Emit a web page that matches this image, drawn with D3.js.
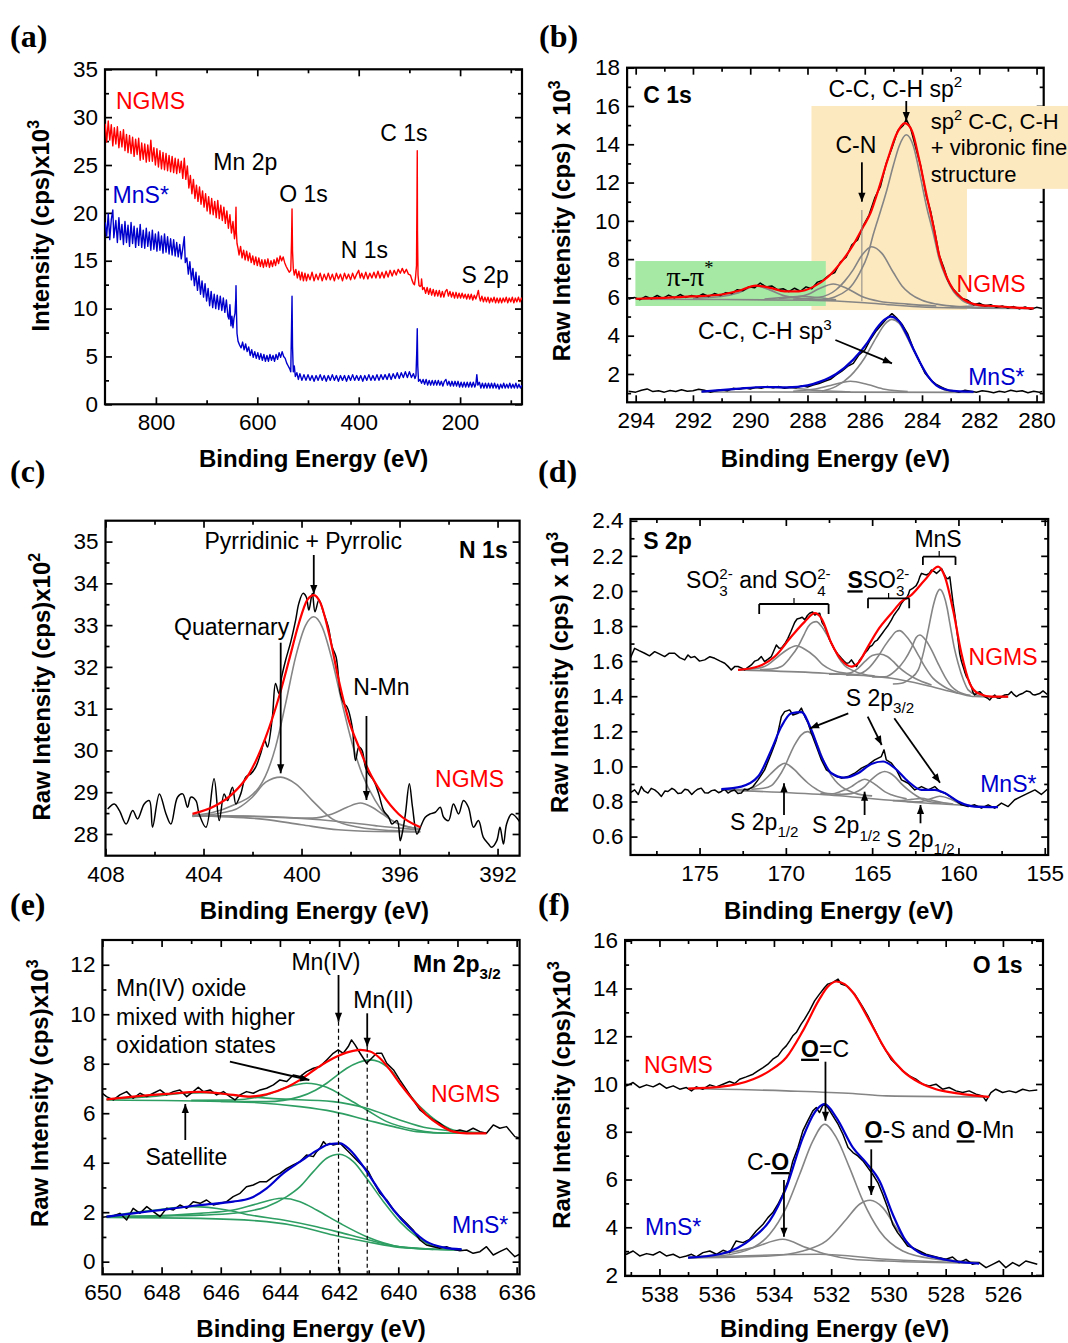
<!DOCTYPE html>
<html>
<head>
<meta charset="utf-8">
<script src="https://cdn.jsdelivr.net/npm/d3@7"></script>
<style>
  body { margin: 0; background: #fff; }
  svg text { font-family: "Liberation Sans", Arial, sans-serif; }
</style>
</head>
<body>
<svg id="figura" width="1068" height="1343"></svg>
<script>
// ---------------- (a) survey ----------------
const surveyNGMS = [[900,29.3],[897,27.4],[894,29.6],[891,27.6],[888,29.2],[885,27.0],[882,28.9],[879,27.2],[876,29.0],[873,26.8],[870,28.5],[867,26.9],[864,28.7],[861,26.5],[858,28.2],[855,26.3],[852,28.1],[849,26.2],[846,27.9],[843,25.9],[840,27.7],[837,26.1],[834,27.8],[831,25.5],[828,27.3],[825,25.6],[822,27.2],[819,25.3],[816,27.1],[813,25.4],[810,27.6],[807,25.4],[804,26.8],[801,25.0],[798,26.7],[795,24.8],[792,26.5],[789,24.6],[786,26.3],[783,24.5],[780,26.2],[777,24.4],[774,26.0],[771,24.3],[768,25.9],[765,24.2],[762,25.7],[759,24.1],[756,25.6],[753,24.2],[750,25.4],[747,23.6],[744,25.7],[741,23.5],[738,24.9],[735,22.6],[732,23.9],[729,22.0],[726,23.5],[723,21.5],[720,22.9],[717,21.2],[714,22.7],[711,20.9],[708,22.3],[705,20.6],[702,22.0],[699,20.2],[696,21.7],[693,19.9],[690,21.5],[687,19.8],[684,21.2],[681,19.5],[678,21.3],[675,19.4],[672,20.8],[669,19.2],[666,20.6],[663,18.9],[660,20.2],[657,18.4],[654,19.8],[651,17.9],[648,19.1],[645,17.3],[643.5,18.0],[642.5,19.6],[642,20.6],[641.3,18.0],[640,16.8],[638,16.3],[636,15.6],[633,16.5],[630,15.3],[627,16.1],[624,15.1],[621,16.0],[618,15.0],[615,15.8],[612,14.8],[609,15.5],[606,14.6],[603,15.4],[600,14.5],[597,15.3],[594,14.4],[591,15.1],[588,14.3],[585,15.1],[582,14.4],[579,15.2],[576,14.3],[573,15.0],[570,14.4],[567,15.1],[564,14.5],[561,15.3],[558,14.7],[555,15.5],[552,15.0],[549,15.4],[546,14.8],[543,14.4],[540,14.1],[537,13.8],[534,14.0],[532.5,17.0],[531.5,20.4],[530.5,16.0],[529,14.2],[527,13.5],[524,14.1],[521,13.2],[518,13.9],[515,13.0],[512,13.8],[509,12.9],[506,13.7],[503,12.9],[500,13.6],[496,13.0],[492,13.8],[488,12.9],[484,13.6],[480,13.0],[476,13.7],[472,12.9],[468,13.6],[464,13.0],[460,13.7],[456,13.0],[452,13.6],[448,12.9],[444,13.7],[440,13.1],[436,13.6],[432,12.9],[428,13.7],[424,13.1],[420,13.6],[416,13.0],[412,13.7],[408,13.1],[404,13.6],[400,14.0],[397,13.2],[394,13.7],[390,13.1],[386,13.8],[382,13.1],[378,13.7],[374,13.2],[370,13.8],[366,13.2],[362,13.9],[358,13.2],[354,13.8],[350,13.2],[346,13.9],[342,13.3],[338,14.0],[334,13.4],[330,14.0],[326,13.5],[322,14.1],[318,13.7],[314,14.2],[310,13.7],[306,14.1],[302,13.6],[298,13.5],[295,13.0],[292,12.6],[290,12.5],[288,13.2],[286,14.5],[285,22.0],[284.5,26.5],[284,18.0],[283,13.5],[281,12.4],[279,12.3],[277,12.4],[276,13.1],[274,12.0],[271,12.2],[268,11.6],[265,12.2],[262,11.5],[259,12.1],[256,11.4],[253,12.0],[250,11.3],[247,11.9],[244,11.3],[241,11.9],[238,11.2],[235,11.8],[232,11.2],[229,11.8],[226,12.0],[223,11.3],[220,11.8],[217,11.2],[214,11.7],[211,11.1],[208,11.7],[205,11.1],[202,11.6],[199,11.1],[196,11.6],[193,11.1],[190,11.5],[187,11.0],[184,11.5],[181,11.0],[178,11.5],[175,10.9],[172,11.4],[169,11.0],[166,11.5],[164,11.9],[162,11.2],[160,10.8],[157,11.3],[154,10.7],[151,11.2],[148,10.7],[145,11.2],[142,10.6],[139,11.1],[136,10.7],[133,11.2],[130,10.6],[127,11.1],[124,10.6],[121,11.1],[118,10.6],[115,11.1],[112,10.7],[109,11.2],[106,10.6],[103,11.1],[100,10.7],[97,11.2],[94,10.6],[91,11.1],[88,10.7],[85,11.2],[82,10.7],[79,11.1],[77,10.9]];

const surveyMnS = [[900,19.0],[897,17.6],[894,19.9],[891,17.2],[888,19.3],[885,20.3],[883,17.4],[879,19.2],[876,16.9],[873,19.5],[870,17.2],[867,18.8],[864,16.7],[861,19.1],[858,16.9],[855,18.7],[852,16.5],[849,19.0],[846,16.8],[843,18.6],[840,16.4],[837,18.4],[834,16.6],[831,18.8],[828,16.4],[825,18.2],[822,16.3],[819,18.4],[816,16.5],[813,18.0],[810,16.1],[807,18.2],[804,16.2],[801,17.8],[798,16.0],[795,18.0],[792,16.1],[789,17.6],[786,15.8],[783,17.8],[780,15.9],[777,17.5],[774,15.7],[771,17.3],[768,15.6],[765,17.2],[762,15.5],[759,16.9],[756,15.4],[753,16.7],[750,15.2],[747,16.3],[744,17.5],[742,14.8],[739,15.3],[736,13.6],[733,14.9],[730,13.0],[727,14.2],[724,12.4],[721,13.8],[718,11.9],[715,13.4],[712,11.5],[709,12.9],[706,11.2],[703,12.6],[700,10.8],[697,12.1],[694,10.3],[691,11.8],[688,10.1],[685,11.5],[682,10.0],[679,11.4],[676,9.9],[673,11.3],[670,9.8],[667,11.1],[664,9.6],[661,10.9],[658,9.2],[656,8.9],[654,10.4],[652,8.2],[650,9.2],[648,8.0],[646,9.0],[644,9.5],[642.5,11.0],[642,12.4],[641,9.5],[640,7.4],[638,6.6],[635,6.2],[632,5.9],[629,6.5],[626,5.7],[623,6.3],[620,5.5],[617,6.0],[614,5.1],[611,5.7],[608,4.9],[605,5.5],[602,4.8],[599,5.4],[596,4.7],[593,5.3],[590,4.6],[587,5.2],[584,4.5],[581,5.1],[578,4.5],[575,5.2],[572,4.6],[569,5.1],[566,4.5],[563,5.2],[560,4.7],[557,5.4],[554,4.9],[551,5.5],[548,5.0],[545,4.8],[542,4.3],[539,4.0],[536,3.7],[534,3.4],[532.5,8.0],[531.5,11.3],[530.5,6.0],[529,3.4],[527,4.0],[525,2.9],[522,3.3],[519,2.6],[516,3.2],[512,2.5],[508,3.1],[504,2.5],[500,3.1],[496,2.5],[492,3.0],[488,2.4],[484,3.0],[480,2.5],[476,3.1],[472,2.5],[468,3.0],[464,2.4],[460,3.0],[456,2.5],[452,3.1],[448,2.5],[444,3.0],[440,2.4],[436,3.0],[432,2.5],[428,3.0],[424,2.4],[420,3.0],[416,2.5],[412,3.1],[408,2.5],[404,3.0],[400,2.5],[396,3.0],[392,2.4],[388,3.0],[384,2.5],[380,3.1],[376,2.5],[372,3.0],[368,2.5],[364,3.1],[360,2.5],[356,3.1],[352,2.6],[348,3.1],[344,2.6],[340,3.2],[336,2.6],[332,3.2],[328,2.7],[324,3.3],[320,2.7],[316,3.3],[312,2.8],[308,3.4],[304,2.8],[300,3.4],[296,2.8],[292,3.2],[289,2.7],[287,3.0],[285.5,5.5],[284.5,7.9],[283.5,4.0],[282,2.4],[279,2.6],[276,2.2],[273,2.6],[270,2.1],[267,2.6],[264,2.0],[261,2.5],[258,2.0],[255,2.5],[252,2.0],[249,2.5],[246,2.0],[243,2.5],[240,2.0],[237,2.4],[234,1.9],[231,2.4],[228,2.6],[225,2.0],[222,2.4],[219,1.9],[216,2.4],[213,1.9],[210,2.4],[207,1.9],[204,2.4],[201,1.8],[198,2.3],[195,1.8],[192,2.3],[189,1.8],[186,2.3],[183,1.8],[180,2.3],[177,1.8],[174,2.3],[171,1.8],[169,2.1],[167,3.1],[165,2.0],[162,2.3],[159,1.7],[156,2.2],[153,1.7],[150,2.2],[147,1.7],[144,2.2],[141,1.7],[138,2.2],[135,1.7],[132,2.2],[129,1.7],[126,2.1],[123,1.6],[120,2.1],[117,1.7],[114,2.2],[111,1.7],[108,2.1],[105,1.7],[102,2.2],[99,1.7],[96,2.1],[93,1.7],[90,2.2],[87,1.7],[84,2.1],[81,1.7],[78,2.0]];

// ---------------- (b) C 1s ----------------
const c1sNGMSraw = [[294.25,5.9],[294.05,6.0],[293.85,5.88],[293.65,6.05],[293.45,5.93],[293.25,6.1],[293.05,5.95],[292.85,6.12],[292.65,5.98],[292.45,6.15],[292.25,6.0],[292.05,6.1],[291.85,6.02],[291.65,6.18],[291.45,6.05],[291.25,6.2],[291.05,6.1],[290.85,6.25],[290.65,6.2],[290.45,6.4],[290.25,6.35],[290.05,6.55],[289.85,6.5],[289.65,6.75],[289.45,6.55],[289.25,6.6],[289.05,6.4],[288.85,6.45],[288.65,6.3],[288.45,6.48],[288.25,6.32],[288.05,6.55],[287.85,6.45],[287.65,6.8],[287.45,6.9],[287.25,7.15],[287.05,7.3],[286.85,7.85],[286.65,8.1],[286.45,8.75],[286.25,9.0],[286.05,9.75],[285.85,10.3],[285.65,11.2],[285.45,11.8],[285.25,13.0],[285.05,13.8],[284.85,14.7],[284.65,15.0],[284.55,15.3],[284.4,14.85],[284.25,14.0],[284.05,12.9],[283.85,11.3],[283.7,10.5],[283.55,9.4],[283.4,8.2],[283.25,7.6],[283.1,6.9],[282.95,6.5],[282.8,6.25],[282.6,5.95],[282.4,5.85],[282.2,5.62],[282.0,5.7],[281.8,5.55],[281.6,5.62],[281.4,5.48],[281.2,5.55],[281.0,5.45],[280.8,5.52],[280.6,5.4],[280.4,5.5],[280.2,5.38],[280.0,5.48],[279.8,5.42]];
const c1sNGMSfit = [[294.0,5.93],[293.0,5.98],[292.0,6.05],[291.0,6.15],[290.4,6.35],[289.8,6.62],[289.3,6.5],[288.8,6.32],[288.3,6.32],[287.8,6.55],[287.3,7.05],[286.9,7.7],[286.4,8.75],[286.05,9.7],[285.8,10.4],[285.55,11.5],[285.2,13.2],[284.9,14.5],[284.6,15.1],[284.35,14.7],[284.1,13.2],[283.85,11.4],[283.6,9.7],[283.4,8.2],[283.15,7.1],[282.9,6.4],[282.5,5.85],[282.0,5.6],[281.5,5.55],[281.0,5.5],[280.5,5.45],[280.1,5.43]];
const c1sNGMScomp = [
  [[294.0,5.9],[291.0,5.89],[288.0,5.85],[286.0,5.72],[285.0,5.6],[284.0,5.5],[282.0,5.44],[280.1,5.42]],
  [[287.5,5.85],[286.6,6.4],[286.17,7.3],[285.9,8.2],[285.7,9.3],[285.45,10.5],[285.23,11.6],[285.0,12.9],[284.8,13.9],[284.55,14.5],[284.3,13.9],[284.07,12.4],[283.85,10.8],[283.6,9.3],[283.4,8.0],[283.15,7.0],[282.9,6.3],[282.6,5.85],[282.2,5.6],[281.5,5.48],[280.1,5.42]],
  [[288.5,5.9],[287.6,6.0],[287.0,6.4],[286.7,6.85],[286.4,7.45],[286.1,8.2],[285.76,8.65],[285.4,8.3],[285.0,7.3],[284.7,6.6],[284.42,6.2],[284.0,5.85],[283.49,5.65],[282.5,5.5],[281.5,5.45]],
  [[289.0,5.95],[288.5,6.0],[288.0,6.15],[287.6,6.45],[287.1,6.7],[286.6,6.45],[286.1,6.05],[285.5,5.8],[284.5,5.65],[283.5,5.55]],
  [[292.0,5.95],[291.0,6.05],[290.4,6.25],[289.8,6.6],[289.3,6.38],[288.8,6.08],[288.0,5.92],[287.0,5.85]],
  [[289.5,5.92],[288.8,6.0],[288.2,6.06],[287.6,5.98],[287.0,5.88]],
  [[283.0,5.5],[282.3,5.55],[281.9,5.62],[281.4,5.52],[280.6,5.45]]
];
const c1sMnSraw = [[294.25,1.1],[294.0,1.05],[293.8,1.15],[293.6,1.22],[293.4,1.08],[293.2,1.12],[293.0,1.05],[292.8,1.14],[292.6,1.08],[292.4,1.18],[292.2,1.1],[292.0,1.12],[291.8,1.2],[291.6,1.15],[291.4,1.05],[291.2,1.12],[291.0,1.18],[290.8,1.12],[290.6,1.25],[290.4,1.2],[290.2,1.28],[290.0,1.22],[289.8,1.3],[289.6,1.26],[289.4,1.35],[289.2,1.28],[289.0,1.34],[288.8,1.25],[288.6,1.32],[288.4,1.28],[288.2,1.38],[288.0,1.32],[287.8,1.42],[287.6,1.5],[287.4,1.62],[287.2,1.72],[287.0,1.95],[286.8,2.15],[286.6,2.4],[286.4,2.55],[286.2,3.0],[286.0,3.25],[285.8,3.8],[285.6,4.25],[285.4,4.6],[285.2,4.95],[285.05,5.15],[284.9,4.95],[284.7,4.6],[284.5,4.1],[284.3,3.3],[284.1,2.7],[283.9,2.05],[283.7,1.7],[283.5,1.45],[283.3,1.3],[283.1,1.15],[282.9,1.12],[282.7,1.05],[282.5,1.15],[282.3,1.1],[282.1,1.05],[281.9,1.12],[281.7,1.08],[281.5,1.02],[281.3,1.1],[281.1,1.05],[280.9,1.15],[280.7,1.08],[280.5,1.12],[280.3,1.02],[280.1,1.1],[279.9,1.05],[279.8,1.08]];
const c1sMnSfit = [[291.7,1.08],[290.5,1.22],[289.5,1.32],[288.7,1.3],[288.0,1.4],[287.56,1.6],[287.0,2.0],[286.4,2.75],[285.9,3.65],[285.6,4.35],[285.3,4.85],[285.1,5.0],[284.8,4.75],[284.55,4.1],[284.3,3.3],[284.07,2.6],[283.8,1.9],[283.5,1.4],[283.2,1.2],[282.8,1.1],[282.2,1.07]];
const c1sMnScomp = [
  [[291.7,1.06],[287.0,1.05],[282.2,1.04]],
  [[287.5,1.1],[287.0,1.35],[286.5,1.9],[286.0,2.85],[285.6,3.9],[285.3,4.6],[285.05,4.85],[284.8,4.65],[284.55,4.0],[284.3,3.25],[284.0,2.4],[283.7,1.7],[283.4,1.3],[283.0,1.1],[282.3,1.05]],
  [[288.5,1.1],[287.8,1.2],[287.2,1.4],[286.5,1.62],[285.9,1.45],[285.3,1.2],[284.5,1.08]],
  [[291.7,1.08],[290.5,1.2],[289.4,1.3],[288.5,1.25],[287.5,1.12],[286.5,1.06]]
];
// highlighted regions of panel (b): [E from, E to, y from, y to]
const regionSp2 = [[287.86, 282.43, 5.34, 16.0], [282.43, 278.9, 11.67, 16.0]];
const regionPi = [294.01, 287.36, 5.55, 7.9];

// ---------------- (c) N 1s ----------------
const n1sRaw = [[407.91,28.6],[407.64,28.72],[407.43,28.56],[407.16,28.24],[406.89,28.56],[406.69,28.36],[406.42,28.72],[406.21,28.8],[406.08,28.16],[405.8,28.96],[405.53,28.48],[405.33,28.24],[405.06,28.88],[404.85,28.96],[404.65,28.64],[404.52,28.88],[404.31,28.8],[404.18,28.48],[403.9,28.16],[403.57,29.32],[403.36,28.32],[403.16,28.96],[403.02,28.8],[402.82,29.12],[402.68,28.72],[402.48,28.96],[402.28,29.36],[402.07,29.44],[401.87,29.6],[401.67,29.92],[401.5,30.24],[401.39,30.08],[401.19,30.8],[401.06,31.6],[400.92,31.36],[400.81,31.76],[400.65,32.16],[400.44,32.6],[400.24,33.12],[400.11,33.52],[399.94,33.76],[399.81,33.68],[399.7,33.36],[399.56,33.76],[399.45,33.32],[399.29,33.6],[399.09,33.28],[398.91,32.96],[398.75,32.48],[398.59,32.24],[398.41,31.36],[398.27,31.12],[398.14,31.04],[397.93,30.56],[397.8,29.76],[397.66,30.08],[397.53,30.0],[397.39,29.6],[397.26,29.44],[397.05,29.28],[396.85,28.96],[396.65,28.56],[396.44,28.4],[396.31,28.24],[396.1,28.32],[395.97,27.84],[395.87,28.08],[395.76,28.48],[395.6,29.2],[395.47,28.64],[395.29,28.0],[395.15,28.16],[394.95,28.4],[394.75,28.48],[394.54,28.52],[394.34,28.64],[394.2,28.4],[394.0,28.32],[393.8,28.72],[393.59,28.48],[393.39,28.8],[393.19,28.64],[392.98,28.16],[392.78,28.32],[392.58,27.92],[392.37,27.76],[392.24,27.68],[392.03,27.84],[391.9,28.16],[391.76,27.76],[391.63,28.24],[391.42,28.48],[391.1,28.3]];
const n1sFit = [[404.45,28.48],[403.5,28.68],[402.82,28.96],[402.14,29.44],[401.46,30.32],[400.92,31.28],[400.51,32.16],[400.11,33.04],[399.77,33.6],[399.5,33.72],[399.22,33.52],[398.88,32.8],[398.48,31.68],[398.07,30.72],[397.66,30.08],[397.26,29.52],[396.71,28.96],[396.04,28.48],[395.15,28.16]];
const n1sComp = [
  [[404.45,28.44],[402.0,28.42],[400.0,28.37],[398.5,28.3],[397.0,28.2],[396.0,28.14],[395.15,28.1]],
  [[404.45,28.44],[401.5,28.35],[400.0,28.22],[398.5,28.1],[397.0,28.06],[395.15,28.05]],
  [[404.45,28.44],[402.82,28.68],[401.73,29.12],[401.06,30.08],[400.65,31.12],[400.24,32.24],[399.83,33.0],[399.5,33.2],[399.16,32.96],[398.75,32.16],[398.34,31.12],[397.93,30.16],[397.53,29.44],[396.99,28.8],[396.31,28.32],[395.15,28.12]],
  [[404.45,28.42],[402.82,28.56],[402.01,28.88],[401.46,29.24],[400.85,29.36],[400.24,29.2],[399.56,28.8],[398.75,28.36],[397.66,28.16],[396.31,28.08],[395.15,28.06]],
  [[404.45,28.44],[401.46,28.42],[399.56,28.38],[398.75,28.48],[398.14,28.64],[397.6,28.74],[397.12,28.64],[396.71,28.48],[396.04,28.24],[395.15,28.12]]
];

// ---------------- (d) S 2p ----------------
const s2pNGMSraw = [[179.0,1.62],[178.76,1.673],[178.5,1.66],[178.18,1.645],[177.9,1.63],[177.6,1.654],[177.3,1.64],[177.02,1.626],[176.75,1.645],[176.44,1.645],[176.15,1.62],[175.86,1.607],[175.67,1.635],[175.5,1.62],[175.28,1.626],[175.0,1.6],[174.7,1.607],[174.4,1.625],[174.12,1.616],[173.8,1.6],[173.54,1.588],[173.35,1.57],[173.16,1.55],[172.95,1.57],[172.77,1.569],[172.55,1.56],[172.39,1.55],[172.2,1.565],[172.0,1.578],[171.8,1.6],[171.61,1.607],[171.42,1.626],[171.23,1.597],[171.05,1.61],[170.84,1.626],[170.55,1.692],[170.4,1.675],[170.26,1.673],[170.05,1.7],[169.88,1.73],[169.7,1.77],[169.49,1.82],[169.35,1.84],[169.2,1.844],[169.05,1.85],[168.9,1.835],[168.75,1.86],[168.62,1.873],[168.45,1.88],[168.32,1.863],[168.18,1.87],[168.04,1.873],[167.9,1.82],[167.75,1.796],[167.6,1.76],[167.46,1.721],[167.3,1.69],[167.17,1.664],[166.98,1.64],[166.78,1.616],[166.63,1.6],[166.49,1.588],[166.35,1.59],[166.2,1.607],[166.05,1.585],[165.91,1.569],[165.72,1.607],[165.57,1.625],[165.43,1.645],[165.28,1.66],[165.14,1.682],[165.0,1.69],[164.85,1.711],[164.7,1.72],[164.56,1.739],[164.4,1.76],[164.27,1.778],[164.1,1.8],[163.88,1.835],[163.75,1.86],[163.59,1.882],[163.45,1.9],[163.3,1.93],[163.15,1.95],[163.01,1.958],[162.9,1.98],[162.82,2.005],[162.65,2.015],[162.53,2.024],[162.45,2.03],[162.33,2.053],[162.24,2.08],[162.14,2.1],[162.0,2.095],[161.85,2.091],[161.7,2.1],[161.56,2.119],[161.4,2.11],[161.27,2.1],[161.1,2.115],[160.98,2.128],[160.85,2.1],[160.69,2.072],[160.6,2.07],[160.5,2.081],[160.4,2.0],[160.31,1.93],[160.2,1.86],[160.12,1.796],[160.02,1.72],[159.93,1.645],[159.83,1.6],[159.73,1.569],[159.64,1.54],[159.54,1.512],[159.4,1.49],[159.25,1.455],[159.15,1.42],[159.06,1.407],[158.9,1.42],[158.77,1.426],[158.6,1.41],[158.48,1.398],[158.33,1.39],[158.19,1.379],[158.05,1.395],[157.9,1.407],[157.75,1.39],[157.61,1.388],[157.45,1.4],[157.32,1.407],[157.1,1.41],[156.93,1.426],[156.8,1.41],[156.64,1.398],[156.45,1.41],[156.26,1.417],[156.05,1.43],[155.87,1.426],[155.7,1.41],[155.57,1.407],[155.3,1.415],[155.1,1.43],[154.85,1.41]];
const s2pNGMSfit = [[172.77,1.55],[171.61,1.569],[170.64,1.626],[169.68,1.74],[168.9,1.825],[168.32,1.873],[167.94,1.844],[167.36,1.702],[166.78,1.607],[166.2,1.569],[165.82,1.588],[165.24,1.683],[164.66,1.778],[163.88,1.873],[163.3,1.94],[162.72,1.978],[161.95,2.062],[161.18,2.138],[160.79,2.081],[160.31,1.891],[159.83,1.645],[159.35,1.474],[158.86,1.417],[158.08,1.398],[157.12,1.398]];
const s2pNGMScomp = [
  [[172.77,1.55],[167.75,1.531],[163.88,1.502],[161.95,1.464],[160.02,1.417],[159.06,1.398],[157.12,1.394]],
  [[172.77,1.55],[171.61,1.559],[171.03,1.58],[170.45,1.626],[169.88,1.668],[169.39,1.688],[168.9,1.668],[168.32,1.626],[167.85,1.578],[167.36,1.55],[166.5,1.53],[165.82,1.521]],
  [[171.5,1.552],[170.8,1.555],[170.26,1.569],[169.75,1.62],[169.3,1.682],[168.95,1.75],[168.71,1.796],[168.45,1.82],[168.23,1.825],[167.95,1.8],[167.56,1.739],[167.25,1.68],[166.98,1.626],[166.6,1.575],[166.2,1.55],[165.5,1.525],[164.85,1.515]],
  [[167.5,1.525],[166.78,1.525],[166.2,1.535],[165.82,1.559],[165.4,1.6],[165.0,1.632],[164.56,1.641],[164.1,1.625],[163.8,1.6],[163.49,1.569],[163.0,1.53],[162.53,1.502],[161.56,1.464]],
  [[166.5,1.52],[165.82,1.525],[165.2,1.56],[164.66,1.626],[164.25,1.69],[163.88,1.739],[163.62,1.768],[163.4,1.774],[163.1,1.75],[162.72,1.702],[162.3,1.63],[161.95,1.569],[161.45,1.5],[160.98,1.464],[160.02,1.417]],
  [[165.0,1.51],[164.27,1.51],[163.6,1.55],[163.11,1.607],[162.7,1.68],[162.45,1.735],[162.24,1.749],[161.9,1.72],[161.56,1.664],[161.2,1.59],[160.79,1.512],[160.4,1.455],[160.02,1.426],[159.3,1.405]],
  [[163.8,1.47],[163.3,1.474],[162.8,1.5],[162.33,1.55],[162.0,1.66],[161.75,1.778],[161.45,1.92],[161.25,1.985],[161.08,2.009],[160.85,1.975],[160.65,1.9],[160.5,1.816],[160.25,1.68],[160.02,1.588],[159.7,1.49],[159.44,1.436],[158.9,1.405],[158.48,1.398]]
];
const s2pMnSraw = [[179.0,0.85],[178.76,0.866],[178.55,0.84],[178.37,0.885],[178.2,0.86],[177.99,0.848],[177.8,0.875],[177.6,0.866],[177.4,0.85],[177.21,0.829],[177.0,0.86],[176.83,0.857],[176.6,0.875],[176.44,0.866],[176.25,0.845],[176.05,0.848],[175.85,0.87],[175.67,0.866],[175.45,0.84],[175.28,0.857],[175.1,0.87],[174.9,0.876],[174.7,0.85],[174.51,0.848],[174.3,0.862],[174.12,0.866],[173.9,0.85],[173.74,0.857],[173.55,0.87],[173.35,0.848],[173.15,0.86],[172.97,0.866],[172.78,0.845],[172.58,0.848],[172.4,0.87],[172.2,0.866],[171.9,0.885],[171.61,0.923],[171.23,0.98],[170.84,1.075],[170.55,1.151],[170.26,1.284],[170.07,1.312],[169.78,1.322],[169.59,1.293],[169.3,1.303],[169.1,1.332],[168.9,1.284],[168.71,1.246],[168.52,1.189],[168.23,1.113],[167.94,1.037],[167.65,0.98],[167.36,0.961],[167.07,0.942],[166.78,0.933],[166.4,0.942],[166.01,0.961],[165.62,0.99],[165.24,1.009],[164.85,1.037],[164.47,1.056],[164.31,1.094],[164.18,1.037],[163.88,1.018],[163.59,0.98],[163.3,0.923],[162.91,0.904],[162.53,0.866],[162.14,0.885],[161.75,0.866],[161.37,0.885],[161.08,0.857],[160.79,0.848],[160.5,0.829],[160.21,0.81],[159.83,0.781],[159.44,0.771],[159.06,0.781],[158.67,0.762],[158.28,0.781],[157.9,0.762],[157.51,0.791],[157.12,0.771],[156.74,0.81],[156.35,0.829],[155.96,0.848],[155.57,0.866],[155.2,0.84],[154.85,0.87]];
const s2pMnSfit = [[173.74,0.87],[172.58,0.885],[171.61,0.942],[170.84,1.094],[170.26,1.227],[169.68,1.303],[169.1,1.309],[168.52,1.208],[167.94,1.056],[167.36,0.961],[166.59,0.936],[165.82,0.961],[165.05,1.014],[164.37,1.028],[163.69,0.99],[162.91,0.914],[162.14,0.866],[161.37,0.866],[160.79,0.848],[160.02,0.8],[159.06,0.771],[157.71,0.768]];
const s2pMnScomp = [
  [[173.74,0.866],[167.75,0.838],[161.95,0.791],[157.71,0.768]],
  [[173.74,0.866],[172.6,0.868],[172.0,0.876],[171.6,0.895],[171.23,0.923],[170.9,0.955],[170.64,0.98],[170.35,1.005],[170.07,1.018],[169.8,1.005],[169.49,0.98],[169.1,0.94],[168.71,0.904],[168.2,0.868],[167.75,0.848],[166.8,0.84]],
  [[172.0,0.87],[171.3,0.875],[170.84,0.89],[170.45,0.935],[170.07,0.999],[169.75,1.07],[169.49,1.122],[169.1,1.18],[168.75,1.198],[168.4,1.17],[168.13,1.113],[167.85,1.04],[167.56,0.98],[167.15,0.92],[166.78,0.885],[166.3,0.858],[165.82,0.842],[165.0,0.832]],
  [[168.0,0.845],[167.36,0.843],[166.8,0.858],[166.2,0.885],[165.8,0.912],[165.43,0.927],[165.05,0.912],[164.66,0.885],[164.25,0.855],[163.88,0.838],[163.0,0.815]],
  [[167.0,0.84],[166.2,0.845],[165.8,0.86],[165.43,0.885],[165.1,0.92],[164.85,0.942],[164.55,0.962],[164.27,0.971],[163.98,0.962],[163.69,0.942],[163.3,0.9],[162.91,0.866],[162.4,0.83],[161.95,0.806],[161.0,0.792]],
  [[163.8,0.805],[163.3,0.806],[162.7,0.812],[162.14,0.818],[161.6,0.808],[161.0,0.795],[160.3,0.785]],
  [[163.0,0.8],[162.33,0.798],[161.7,0.812],[161.08,0.83],[160.5,0.815],[160.02,0.792],[159.06,0.772],[158.0,0.768]]
];

// ---------------- (e) Mn 2p3/2 ----------------
const mnNGMSraw = [[650.0,6.8],[649.86,6.671],[649.63,6.536],[649.41,6.739],[649.18,6.873],[648.96,6.604],[648.73,6.806],[648.5,6.671],[648.28,6.806],[648.05,6.941],[647.83,6.739],[647.6,6.873],[647.38,6.941],[647.15,6.671],[646.93,6.873],[646.76,7.049],[646.59,6.873],[646.36,6.941],[646.14,6.739],[645.91,6.873],[645.69,6.671],[645.52,6.536],[645.35,6.739],[645.13,6.873],[644.9,6.806],[644.67,6.941],[644.45,7.008],[644.22,7.143],[644.0,7.345],[643.77,7.278],[643.55,7.547],[643.32,7.48],[643.1,7.682],[642.87,7.817],[642.65,7.884],[642.42,8.154],[642.2,8.423],[642.03,8.558],[641.86,8.423],[641.69,8.693],[641.58,8.962],[641.46,8.76],[641.29,8.423],[641.07,8.019],[640.9,8.221],[640.73,8.423],[640.56,8.423],[640.39,8.019],[640.16,7.749],[639.95,7.345],[639.72,6.941],[639.5,6.536],[639.27,6.132],[639.05,5.93],[638.82,5.728],[638.6,5.593],[638.37,5.391],[638.14,5.256],[637.92,5.323],[637.69,5.256],[637.47,5.391],[637.24,5.256],[637.02,5.189],[636.79,5.526],[636.57,5.391],[636.34,5.458],[636.06,5.054],[635.9,5.0]];
const mnNGMSfit = [[649.86,6.563],[648.96,6.671],[647.83,6.779],[646.7,6.86],[645.58,6.739],[645.01,6.671],[644.45,6.765],[643.77,7.049],[643.32,7.345],[642.76,7.817],[642.2,8.221],[641.63,8.491],[641.29,8.558],[640.95,8.491],[640.62,8.221],[640.28,7.749],[639.95,7.21],[639.5,6.536],[639.05,5.93],[638.6,5.526],[638.14,5.256],[637.69,5.189],[637.02,5.189]];
const mnNGMScomp = [
  [[649.86,6.536],[645.58,6.469],[643.32,6.267],[642.2,6.065],[641.07,5.728],[640.16,5.458],[639.38,5.256],[638.26,5.189],[637.02,5.189]],
  [[649.86,6.563],[648.39,6.671],[647.26,6.806],[646.48,6.833],[645.35,6.698],[644.22,6.59],[642.2,6.469],[641.07,6.2],[640.0,5.75],[639.0,5.4],[637.02,5.2]],
  [[647.0,6.52],[645.58,6.536],[644.45,6.739],[643.77,7.049],[643.1,7.21],[642.42,7.049],[641.74,6.604],[641.07,6.132],[640.39,5.66],[639.38,5.323],[638.26,5.189],[637.02,5.189]],
  [[646.0,6.48],[644.45,6.469],[643.32,6.671],[642.8,6.93],[642.42,7.21],[642.05,7.55],[641.74,7.817],[641.35,8.05],[640.95,8.154],[640.65,8.08],[640.39,7.884],[640.15,7.6],[639.95,7.21],[639.65,6.8],[639.38,6.402],[639.1,6.08],[638.82,5.795],[638.14,5.323],[637.5,5.21],[637.02,5.189]]
];
const mnMnSraw = [[650.0,1.8],[649.86,1.82],[649.63,1.846],[649.41,1.954],[649.18,1.685],[648.96,2.156],[648.73,1.954],[648.5,2.224],[648.28,2.022],[648.05,1.82],[647.83,2.156],[647.6,2.089],[647.38,2.291],[647.15,2.156],[646.93,2.426],[646.7,2.359],[646.48,2.493],[646.25,2.291],[646.03,2.359],[645.8,2.426],[645.58,2.628],[645.35,2.763],[645.13,3.032],[644.9,3.1],[644.67,3.235],[644.45,3.235],[644.22,3.437],[644.0,3.571],[643.77,3.774],[643.55,3.908],[643.32,4.043],[643.1,4.313],[642.87,4.245],[642.76,4.447],[642.65,4.582],[642.53,4.852],[642.42,4.717],[642.31,4.784],[642.2,4.717],[641.97,4.784],[641.8,4.582],[641.63,4.38],[641.41,4.111],[641.18,3.841],[641.01,3.639],[640.84,3.235],[640.62,2.763],[640.39,2.493],[640.16,2.089],[639.95,1.82],[639.72,1.55],[639.5,1.28],[639.27,0.876],[639.05,0.674],[638.82,0.606],[638.6,0.539],[638.37,0.606],[638.14,0.499],[637.92,0.445],[637.69,0.472],[637.47,0.337],[637.24,0.404],[637.02,0.606],[636.79,0.27],[636.57,0.404],[636.34,0.539],[636.06,0.202],[635.9,0.3]];
const mnMnSfit = [[649.86,1.82],[648.96,1.954],[647.83,2.116],[646.7,2.291],[645.58,2.426],[645.01,2.561],[644.45,2.965],[643.89,3.571],[643.32,4.043],[642.76,4.488],[642.31,4.757],[641.97,4.784],[641.63,4.515],[641.18,3.841],[640.73,3.032],[640.16,2.089],[639.6,1.348],[639.05,0.809],[638.48,0.58],[637.86,0.499]];
const mnMnScomp = [
  [[649.86,1.792],[646.7,1.752],[644.45,1.617],[643.32,1.415],[642.2,1.078],[641.07,0.809],[639.95,0.58],[637.86,0.472]],
  [[649.86,1.82],[648.39,2.062],[646.93,2.224],[645.8,2.089],[645.01,1.887],[643.89,1.685],[642.76,1.415],[641.63,1.078],[639.95,0.606],[637.86,0.472]],
  [[649.86,1.82],[648.5,1.84],[646.7,1.954],[645.58,2.089],[644.79,2.332],[643.94,2.561],[643.32,2.426],[642.76,2.089],[641.97,1.55],[641.07,1.011],[639.95,0.606],[638.82,0.499]],
  [[649.86,1.82],[647.83,1.85],[646.7,1.88],[645.58,1.954],[644.45,2.224],[643.77,2.628],[643.32,3.032],[642.87,3.639],[642.42,4.178],[641.99,4.34],[641.52,4.043],[641.07,3.369],[640.5,2.426],[639.95,1.617],[639.38,1.011],[638.82,0.633],[637.86,0.499]]
];

// ---------------- (f) O 1s ----------------
const o1sNGMSraw = [[539.39,9.992],[539.15,9.922],[538.92,10.061],[538.69,9.852],[538.45,9.964],[538.22,9.88],[537.99,10.02],[537.76,9.824],[537.52,9.922],[537.29,9.782],[537.06,9.852],[536.88,9.712],[536.71,9.88],[536.48,9.782],[536.24,9.964],[536.01,9.88],[535.78,9.992],[535.55,10.103],[535.37,10.02],[535.2,10.201],[534.97,10.3],[534.73,10.411],[534.56,10.55],[534.38,10.69],[534.21,10.83],[534.04,11.039],[533.86,11.179],[533.69,11.458],[533.57,11.598],[533.45,11.807],[533.34,12.017],[533.22,12.156],[533.05,12.506],[532.93,12.715],[532.76,13.064],[532.58,13.483],[532.41,13.763],[532.23,14.042],[532.12,14.182],[531.94,14.251],[531.76,14.391],[531.65,14.182],[531.47,14.112],[531.3,13.902],[531.18,13.763],[531.07,13.553],[530.89,13.204],[530.72,12.855],[530.55,12.436],[530.43,12.156],[530.26,11.737],[530.08,11.388],[529.91,11.039],[529.73,10.83],[529.5,10.55],[529.27,10.341],[529.04,10.201],[528.81,9.992],[528.57,9.922],[528.34,9.992],[528.11,9.782],[527.88,9.852],[527.64,9.712],[527.41,9.642],[527.18,9.712],[526.94,9.573],[526.71,9.503],[526.59,9.293],[526.42,9.642],[526.25,9.782],[526.01,9.642],[525.78,9.712],[525.55,9.642],[525.31,9.782],[525.08,9.712],[524.8,9.75]];
const o1sNGMSfit = [[537.0,9.81],[535.9,9.88],[534.73,10.2],[534.15,10.55],[533.57,11.109],[532.99,12.226],[532.41,13.553],[532.12,14.07],[531.82,14.293],[531.53,14.18],[531.24,13.832],[530.66,12.645],[530.08,11.388],[529.5,10.55],[528.92,10.061],[528.34,9.782],[527.76,9.642],[527.18,9.545],[526.48,9.461]];
const o1sNGMSbg = [[537.0,9.81],[533.57,9.712],[531.24,9.6],[530.08,9.503],[526.48,9.461]];
const o1sMnSraw = [[539.39,2.939],[539.15,2.869],[538.92,3.008],[538.69,2.799],[538.45,2.897],[538.22,2.841],[537.99,2.98],[537.76,2.799],[537.52,2.869],[537.29,2.729],[537.06,2.799],[536.88,2.869],[536.71,2.757],[536.48,2.939],[536.24,3.008],[536.01,2.869],[535.78,3.036],[535.55,2.939],[535.32,3.427],[535.08,3.358],[534.85,3.497],[534.62,3.846],[534.38,4.126],[534.21,4.405],[534.04,4.615],[533.86,4.964],[533.69,5.383],[533.51,5.941],[533.34,6.78],[533.16,7.338],[532.99,8.036],[532.82,8.455],[532.64,8.874],[532.52,9.014],[532.41,8.804],[532.27,9.154],[532.12,9.014],[531.94,8.665],[531.76,8.316],[531.59,7.897],[531.41,7.338],[531.24,7.128],[531.07,6.989],[530.89,6.78],[530.72,6.5],[530.55,6.221],[530.37,5.872],[530.2,5.383],[530.03,4.824],[529.85,4.126],[529.68,3.777],[529.5,3.497],[529.33,3.218],[529.16,3.148],[528.92,3.008],[528.69,2.869],[528.46,2.799],[528.23,2.729],[527.99,2.659],[527.76,2.757],[527.53,2.52],[527.29,2.659],[527.06,2.45],[526.83,2.52],[526.59,2.31],[526.36,2.45],[526.13,2.589],[525.9,2.31],[525.66,2.52],[525.43,2.38],[525.2,2.589],[524.8,2.45]];
const o1sMnSfit = [[537.0,2.729],[535.9,2.869],[534.73,3.567],[534.15,4.265],[533.57,5.662],[532.99,7.757],[532.58,8.804],[532.23,9.154],[531.82,8.595],[531.24,7.338],[530.78,6.709],[530.31,5.941],[529.85,4.545],[529.39,3.427],[528.92,2.939],[528.34,2.729],[527.76,2.589],[526.83,2.478]];
const o1sMnScomp = [
  [[537.0,2.72],[532.41,2.869],[530.08,2.659],[526.83,2.492]],
  [[537.0,2.729],[535.9,2.869],[534.73,3.148],[533.69,3.497],[532.87,3.148],[532.17,2.869],[531.24,2.659],[530.08,2.589],[526.83,2.492]],
  [[537.0,2.73],[535.9,2.799],[534.73,3.148],[534.15,3.707],[533.57,4.824],[533.1,6.221],[532.64,7.617],[532.23,8.316],[531.82,7.757],[531.36,6.5],[530.89,5.103],[530.31,3.846],[529.5,3.008],[528.34,2.659],[526.83,2.52]],
  [[537.0,2.72],[534.15,2.799],[532.99,3.008],[532.17,3.427],[531.47,4.335],[531.01,4.964],[530.64,5.131],[530.2,4.824],[529.73,3.986],[529.16,3.148],[528.34,2.729],[526.83,2.52]]
];

// ---------------- dibujo ----------------
const svg = d3.select("#figura");
const ROJO = "#ff0000", AZUL = "#0000cd", GRIS = "#858585", VERDE = "#2e9e62";
const fuente = "Liberation Sans, Arial, sans-serif";

const defs = svg.append("defs");
defs.append("marker")
  .attr("id", "punta").attr("viewBox", "0 0 10 10")
  .attr("refX", 10).attr("refY", 5)
  .attr("markerWidth", 10).attr("markerHeight", 9)
  .attr("markerUnits", "userSpaceOnUse").attr("orient", "auto")
  .append("path").attr("d", "M0,1L10,5L0,9Z").attr("fill", "#000");

const texto = (x, y, partes, op = {}) => {
  const size = op.size || 23;
  const t = svg.append("text")
    .attr("x", x).attr("y", y)
    .attr("font-size", size)
    .attr("fill", op.color || "#000")
    .attr("text-anchor", op.anchor || "start");
  if (op.bold) t.attr("font-weight", "bold");
  if (op.family) t.style("font-family", op.family);
  if (op.rotate) t.attr("transform", `rotate(-90,${x},${y})`);
  let desplazado = 0;
  partes.forEach(p => {
    if (typeof p === "string") p = { t: p };
    const objetivo = p.sub ? size * 0.32 : p.sup ? -size * 0.42 : 0;
    const ts = t.append("tspan").text(p.t).attr("dy", objetivo - desplazado);
    desplazado = objetivo;
    if (p.sub || p.sup) ts.attr("font-size", size * 0.66);
    if (p.dx) ts.attr("dx", p.dx);
    if (p.bold) ts.attr("font-weight", "bold");
    if (p.u) ts.attr("text-decoration", "underline");
  });
  return t;
};

const flecha = (x1, y1, x2, y2) => {
  svg.append("line")
    .attr("x1", x1).attr("y1", y1).attr("x2", x2).attr("y2", y2)
    .attr("stroke", "#000").attr("stroke-width", 1.8)
    .attr("marker-end", "url(#punta)");
};
const linea = (x1, y1, x2, y2, w = 1.8, dash = null, color = "#000") => {
  svg.append("line")
    .attr("x1", x1).attr("y1", y1).attr("x2", x2).attr("y2", y2)
    .attr("stroke", color).attr("stroke-width", w)
    .attr("stroke-dasharray", dash);
};

const panel = (p) => {
  const x = d3.scaleLinear().domain(p.xDom).range([p.left, p.right]);
  const y = d3.scaleLinear().domain(p.yDom).range([p.bottom, p.top]);
  const estilo = g => {
    g.select(".domain").remove();
    g.selectAll("line").attr("stroke", "#000").attr("stroke-width", 1.7);
    g.selectAll("text").attr("font-size", 22.5).attr("font-family", fuente).attr("fill", "#000");
  };
  const fmtX = p.xFmt || d3.format("d");
  const fmtY = p.yFmt || d3.format("d");
  const ejes = svg.append("g");
  ejes.append("g").attr("transform", `translate(0,${p.bottom})`)
    .call(d3.axisBottom(x).tickValues(p.xMajor).tickSize(-7).tickPadding(10).tickFormat(fmtX)).call(estilo);
  ejes.append("g").attr("transform", `translate(0,${p.bottom})`)
    .call(d3.axisBottom(x).tickValues(p.xMinor).tickSize(-4).tickFormat("")).call(estilo);
  ejes.append("g").attr("transform", `translate(0,${p.top})`)
    .call(d3.axisTop(x).tickValues(p.xMajor).tickSize(-7).tickFormat("")).call(estilo);
  ejes.append("g").attr("transform", `translate(0,${p.top})`)
    .call(d3.axisTop(x).tickValues(p.xMinor).tickSize(-4).tickFormat("")).call(estilo);
  ejes.append("g").attr("transform", `translate(${p.left},0)`)
    .call(d3.axisLeft(y).tickValues(p.yMajor).tickSize(-7).tickPadding(7).tickFormat(fmtY)).call(estilo);
  ejes.append("g").attr("transform", `translate(${p.left},0)`)
    .call(d3.axisLeft(y).tickValues(p.yMinor).tickSize(-4).tickFormat("")).call(estilo);
  ejes.append("g").attr("transform", `translate(${p.right},0)`)
    .call(d3.axisRight(y).tickValues(p.yMajor).tickSize(-7).tickFormat("")).call(estilo);
  ejes.append("g").attr("transform", `translate(${p.right},0)`)
    .call(d3.axisRight(y).tickValues(p.yMinor).tickSize(-4).tickFormat("")).call(estilo);
  ejes.append("rect")
    .attr("x", p.left).attr("y", p.top)
    .attr("width", p.right - p.left).attr("height", p.bottom - p.top)
    .attr("fill", "none").attr("stroke", "#000").attr("stroke-width", 2.2);

  const clip = "clip-" + p.id;
  defs.append("clipPath").attr("id", clip).append("rect")
    .attr("x", p.left).attr("y", p.top)
    .attr("width", p.right - p.left).attr("height", p.bottom - p.top);
  // capa: shaded regions, drawn under the spectra
  const capa = svg.append("g");
  const trazos = svg.append("g").attr("clip-path", `url(#${clip})`);
  const serie = (datos, color, ancho, curva) => {
    trazos.append("path")
      .attr("d", d3.line().x(d => x(d[0])).y(d => y(d[1])).curve(curva || d3.curveLinear)(datos))
      .attr("fill", "none").attr("stroke", color).attr("stroke-width", ancho)
      .attr("stroke-linejoin", "round");
  };
  return { x, y, serie, capa };
};

const suave = d3.curveMonotoneX;

// ---------- (a) ----------
{
  const p = panel({ id: "a", left: 105, right: 522, top: 69.3, bottom: 404.3,
    xDom: [900.4, 77.9], yDom: [0, 35],
    xMajor: [800, 600, 400, 200], xMinor: [700, 500, 300, 100],
    yMajor: d3.range(0, 36, 5), yMinor: d3.range(2.5, 35, 5) });
  p.serie(surveyNGMS, ROJO, 1.4);
  p.serie(surveyMnS, AZUL, 1.4);
  texto(116, 109.3, ["NGMS"], { color: ROJO });
  texto(112.6, 202.7, ["MnS*"], { color: AZUL });
  texto(213.3, 170, ["Mn 2p"]);
  texto(279.2, 201.7, ["O 1s"]);
  texto(340.8, 258.3, ["N 1s"]);
  texto(380.3, 140.7, ["C 1s"]);
  texto(461.5, 282.7, ["S 2p"]);
}

// ---------- (b) ----------
{
  const p = panel({ id: "b", left: 627.1, right: 1043.7, top: 67.7, bottom: 402.3,
    xDom: [294.3, 279.75], yDom: [0.52, 18],
    xMajor: d3.range(294, 279, -2), xMinor: d3.range(293, 280, -2),
    yMajor: d3.range(2, 19, 2), yMinor: d3.range(1, 18, 2) });
  regionSp2.forEach(r => {
    p.capa.append("rect")
      .attr("x", p.x(r[0])).attr("y", p.y(r[3]))
      .attr("width", p.x(r[1]) - p.x(r[0])).attr("height", p.y(r[2]) - p.y(r[3]))
      .attr("fill", "#fde9bf");
  });
  p.capa.append("rect")
    .attr("x", p.x(regionPi[0])).attr("y", p.y(regionPi[3]))
    .attr("width", p.x(regionPi[1]) - p.x(regionPi[0])).attr("height", p.y(regionPi[2]) - p.y(regionPi[3]))
    .attr("fill", "#a5e9a5");
  c1sNGMScomp.forEach(c => p.serie(c, GRIS, 1.6, suave));
  c1sMnScomp.forEach(c => p.serie(c, GRIS, 1.6, suave));
  p.serie(c1sNGMSraw, "#000", 1.5);
  p.serie(c1sMnSraw, "#000", 1.5);
  p.serie(c1sNGMSfit, ROJO, 2.2, suave);
  p.serie(c1sMnSfit, AZUL, 2.2, suave);
  linea(p.x(286.1), 210, p.x(286.1), p.y(5.8), 1, null, GRIS);
  texto(643.2, 102.7, ["C 1s"], { bold: true });
  texto(828.6, 96.7, ["C-C, C-H sp", { t: "2", sup: true }]);
  flecha(p.x(284.55), 101, p.x(284.55), 121);
  texto(930.8, 129.3, ["sp", { t: "2", sup: true }, " C-C, C-H"], { size: 22 });
  texto(930.8, 155, ["+ vibronic fine"], { size: 22 });
  texto(930.8, 181.7, ["structure"], { size: 22 });
  texto(835.4, 153.3, ["C-N"]);
  flecha(p.x(286.1), 162.3, p.x(286.1), 201.7);
  texto(666.6, 286, ["π-π", { t: "*", sup: true }], { size: 28, family: "Liberation Serif, serif" });
  texto(956.6, 291.7, ["NGMS"], { color: ROJO });
  texto(698, 339.3, ["C-C, C-H sp", { t: "3", sup: true }]);
  flecha(835.4, 340, 892, 363.3);
  texto(968.2, 385, ["MnS*"], { color: AZUL });
}

// ---------- (c) ----------
{
  const p = panel({ id: "c", left: 105.5, right: 519.6, top: 520.7, bottom: 855.7,
    xDom: [408, 391.1], yDom: [27.48, 35.5],
    xMajor: [408, 404, 400, 396, 392], xMinor: [406, 402, 398, 394],
    yMajor: d3.range(28, 35.5, 1), yMinor: d3.range(28.5, 35, 1) });
  n1sComp.forEach(c => p.serie(c, GRIS, 1.6, suave));
  p.serie(n1sRaw, "#000", 1.5, d3.curveCatmullRom);
  p.serie(n1sFit, ROJO, 2.2, suave);
  texto(204.5, 549.3, ["Pyrridinic + Pyrrolic"]);
  flecha(p.x(399.5), 555, p.x(399.5), 594);
  texto(459.1, 558.3, ["N 1s"], { bold: true });
  texto(174.1, 635, ["Quaternary"]);
  flecha(p.x(400.85), 642.7, p.x(400.85), 773.3);
  texto(353.3, 695, ["N-Mn"]);
  flecha(p.x(397.35), 716, p.x(397.35), 800);
  texto(435.1, 786.7, ["NGMS"], { color: ROJO });
}

// ---------- (d) ----------
{
  const p = panel({ id: "d", left: 630.5, right: 1048.2, top: 519, bottom: 855,
    xDom: [179.0, 154.8], yDom: [0.495, 2.41],
    xMajor: [175, 170, 165, 160, 155], xMinor: [177.5, 172.5, 167.5, 162.5, 157.5],
    yMajor: d3.range(0.6, 2.41, 0.2), yMinor: d3.range(0.7, 2.4, 0.2),
    yFmt: d3.format(".1f") });
  s2pNGMScomp.forEach(c => p.serie(c, GRIS, 1.6, suave));
  s2pMnScomp.forEach(c => p.serie(c, GRIS, 1.6, suave));
  p.serie(s2pNGMSraw, "#000", 1.5);
  p.serie(s2pMnSraw, "#000", 1.5);
  p.serie(s2pNGMSfit, ROJO, 2.2, suave);
  p.serie(s2pMnSfit, AZUL, 2.2, suave);
  texto(643.2, 549.3, ["S 2p"], { bold: true });
  texto(914.4, 547.3, ["MnS"]);
  linea(922.9, 556.7, 955.5, 556.7); linea(922.9, 556.7, 922.9, 565); linea(955.5, 556.7, 955.5, 565); linea(939.2, 556.7, 939.2, 551, 1.2);
  texto(686.1, 588.3, ["SO", { t: "3", sub: true }, { t: "2-", sup: true, dx: -8.5 }, " and SO", { t: "4", sub: true }, { t: "2-", sup: true, dx: -8.5 }]);
  linea(759.2, 604, 828.6, 604); linea(759.2, 604, 759.2, 614); linea(828.6, 604, 828.6, 614); linea(794, 604, 794, 598, 1.2);
  texto(847.4, 588.3, [{ t: "S", bold: true, u: true }, "SO", { t: "3", sub: true }, { t: "2-", sup: true, dx: -8.5 }]);
  linea(868, 598.3, 909.2, 598.3); linea(868, 598.3, 868, 608.3); linea(909.2, 598.3, 909.2, 608.3); linea(888.6, 598.3, 888.6, 593, 1.2);
  texto(968.6, 665, ["NGMS"], { color: ROJO });
  texto(845.7, 706, ["S 2p", { t: "3/2", sub: true }]);
  flecha(848.3, 713.3, 810, 728.3);
  flecha(867.7, 716.7, 881.7, 745);
  flecha(894.3, 718.3, 940, 782.7);
  texto(980.2, 791.7, ["MnS*"], { color: AZUL });
  texto(730.1, 830, ["S 2p", { t: "1/2", sub: true }]);
  flecha(784, 815, 784, 783.3);
  texto(812.1, 833.3, ["S 2p", { t: "1/2", sub: true }]);
  flecha(864.6, 815, 864.6, 791.7);
  texto(886.2, 846.7, ["S 2p", { t: "1/2", sub: true }]);
  flecha(920.5, 823.3, 920.5, 805);
}

// ---------- (e) ----------
{
  const p = panel({ id: "e", left: 102.4, right: 519.6, top: 940, bottom: 1274.3,
    xDom: [650, 635.9], yDom: [-0.51, 13.0],
    xMajor: d3.range(650, 635, -2), xMinor: d3.range(649, 636, -2),
    yMajor: d3.range(0, 13, 2), yMinor: d3.range(1, 13, 2) });
  mnNGMScomp.forEach(c => p.serie(c, VERDE, 1.6, suave));
  mnMnScomp.forEach(c => p.serie(c, VERDE, 1.6, suave));
  p.serie(mnNGMSraw, "#000", 1.5);
  p.serie(mnMnSraw, "#000", 1.5);
  p.serie(mnNGMSfit, ROJO, 2.2, suave);
  p.serie(mnMnSfit, AZUL, 2.2, suave);
  const xIV = p.x(642.02), xII = p.x(641.05);
  linea(xIV, 1021.7, xIV, 1274.3, 1.2, "4,3");
  linea(xII, 1046.7, xII, 1274.3, 1.2, "4,3");
  texto(291.4, 970, ["Mn(IV)"]);
  flecha(xIV, 975, xIV, 1021.7);
  texto(413.1, 971.7, ["Mn 2p", { t: "3/2", sub: true }], { bold: true });
  texto(116, 996, ["Mn(IV) oxide"]);
  texto(116, 1025, ["mixed with higher"]);
  texto(116, 1053.3, ["oxidation states"]);
  texto(353.3, 1008.3, ["Mn(II)"]);
  flecha(xII, 1013.3, xII, 1046.7);
  flecha(229.9, 1061.7, 309.3, 1080);
  texto(145.4, 1165, ["Satellite"]);
  flecha(185.3, 1140, 185.3, 1104);
  texto(431, 1101.7, ["NGMS"], { color: ROJO });
  texto(452, 1233.3, ["MnS*"], { color: AZUL });
}

// ---------- (f) ----------
{
  const p = panel({ id: "f", left: 625.1, right: 1043, top: 940, bottom: 1276,
    xDom: [539.2, 524.6], yDom: [1.96, 16.03],
    xMajor: d3.range(538, 525, -2), xMinor: d3.range(539, 524, -2),
    yMajor: d3.range(2, 17, 2), yMinor: d3.range(3, 16, 2) });
  p.serie(o1sNGMSbg, GRIS, 1.6, suave);
  o1sMnScomp.forEach(c => p.serie(c, GRIS, 1.6, suave));
  p.serie(o1sNGMSraw, "#000", 1.5);
  p.serie(o1sMnSraw, "#000", 1.5);
  p.serie(o1sNGMSfit, ROJO, 2.2, suave);
  p.serie(o1sMnSfit, AZUL, 2.2, suave);
  texto(972.7, 973.3, ["O 1s"], { bold: true });
  texto(643.9, 1073.3, ["NGMS"], { color: ROJO });
  texto(801.1, 1056.7, [{ t: "O", bold: true, u: true }, "=C"]);
  flecha(p.x(532.2), 1061.7, p.x(532.2), 1120.7);
  texto(864.6, 1138.3, [{ t: "O", bold: true, u: true }, "-S and ", { t: "O", bold: true, u: true }, "-Mn"]);
  flecha(p.x(530.6), 1149.3, p.x(530.6), 1195);
  texto(746.9, 1170, ["C-", { t: "O", bold: true, u: true }]);
  flecha(p.x(533.65), 1180, p.x(533.65), 1236.7);
  texto(645, 1235, ["MnS*"], { color: AZUL });
}

// ---------- titles and panel letters ----------
const tituloX = [[313.7, 467], [835.4, 467], [314.4, 919], [838.8, 919], [311, 1337], [834.6, 1337]];
tituloX.forEach(([cx, by]) => texto(cx, by, ["Binding Energy (eV)"], { bold: true, size: 24, anchor: "middle" }));

texto(49.5, 225.8, ["Intensity (cps)x10", { t: "3", sup: true }], { bold: true, size: 24, anchor: "middle", rotate: true });
texto(570, 220.8, ["Raw Intensity (cps) x 10", { t: "3", sup: true }], { bold: true, size: 24, anchor: "middle", rotate: true });
texto(50, 686.7, ["Raw Intensity (cps)x10", { t: "2", sup: true }], { bold: true, size: 24, anchor: "middle", rotate: true });
texto(568, 672.5, ["Raw Intensity (cps) x 10", { t: "3", sup: true }], { bold: true, size: 24, anchor: "middle", rotate: true });
texto(48.5, 1093.3, ["Raw Intensity (cps)x10", { t: "3", sup: true }], { bold: true, size: 24, anchor: "middle", rotate: true });
texto(569.5, 1095, ["Raw Intensity (cps)x10", { t: "3", sup: true }], { bold: true, size: 24, anchor: "middle", rotate: true });

const letras = [["(a)", 10, 46.5], ["(b)", 539, 46.5], ["(c)", 10, 481.7], ["(d)", 538, 481.7], ["(e)", 10, 915], ["(f)", 538, 915]];
letras.forEach(([l, lx, ly]) => texto(lx, ly, [l], { bold: true, size: 32, family: "Liberation Serif, serif" }));
</script>
</body>
</html>
